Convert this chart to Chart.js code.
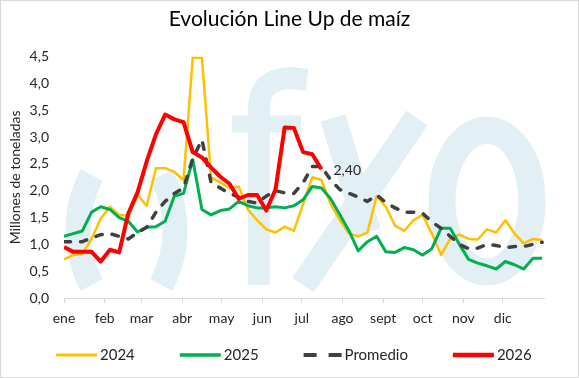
<!DOCTYPE html>
<html>
<head>
<meta charset="utf-8">
<script src="https://cdn.jsdelivr.net/npm/chart.js@4.4.1/dist/chart.umd.min.js"></script>
<style>
  html, body { margin: 0; padding: 0; background: #fff; }
  #marco { width: 579px; height: 378px; box-sizing: border-box; border: 1px solid #d9d9d9; }
  canvas { display: block; }
</style>
</head>
<body>
<div id="marco"><canvas id="lineUp" width="577" height="376"></canvas></div>
<script>
  const FUENTE = "Lato, 'Open Sans', sans-serif";
  const TITULO = 'Evolución Line Up de maíz';

  // Etiquetas del eje X (inicio de cada mes, dia del año)
  const meses = ['ene', 'feb', 'mar', 'abr', 'may', 'jun', 'jul', 'ago', 'sept', 'oct', 'nov', 'dic'];
  const inicioMes = [1, 32, 60, 91, 121, 152, 182, 213, 244, 274, 305, 335];

  // Series semanales, millones de toneladas
  const serie2024 = [0.72, 0.8, 0.82, 1.1, 1.48, 1.7, 1.55, 1.53, 1.92, 1.72,
    2.42, 2.42, 2.35, 2.2, 4.48, 4.48, 2.25, 2.15, 2.05, 2.08,
    1.65, 1.45, 1.28, 1.22, 1.33, 1.25, 1.75, 2.25, 2.2, 1.75,
    1.45, 1.2, 1.15, 1.22, 1.9, 1.7, 1.35, 1.25, 1.45, 1.55,
    1.2, 0.8, 1.1, 1.18, 1.1, 1.09, 1.28, 1.22, 1.45, 1.2,
    1.02, 1.1, 1.08];
  const serie2025 = [1.15, 1.2, 1.25, 1.6, 1.7, 1.65, 1.5, 1.43, 1.23, 1.32,
    1.33, 1.43, 1.9, 1.95, 2.58, 1.65, 1.55, 1.63, 1.66, 1.8,
    1.72, 1.68, 1.68, 1.7, 1.68, 1.72, 1.83, 2.08, 2.05, 1.85,
    1.55, 1.25, 0.88, 1.05, 1.15, 0.86, 0.85, 0.94, 0.9, 0.8,
    0.92, 1.3, 1.3, 1.0, 0.72, 0.65, 0.6, 0.54, 0.68, 0.62,
    0.54, 0.74, 0.74];
  const promedio = [1.05, 1.05, 1.05, 1.12, 1.18, 1.2, 1.15, 1.1, 1.22, 1.32,
    1.6, 1.8, 1.95, 2.05, 2.6, 2.95, 2.15, 2.05, 1.95, 1.88,
    1.8, 1.77, 1.9, 2.0, 1.96, 1.95, 2.15, 2.45, 2.45, 2.2,
    2.02, 1.95, 1.88, 1.8, 1.92, 1.78, 1.68, 1.6, 1.6, 1.58,
    1.42, 1.3, 1.15, 1.0, 0.92, 0.93, 1.0, 0.98, 0.94, 0.96,
    0.96, 1.0, 1.04];
  const serie2026 = [0.95, 0.86, 0.86, 0.86, 0.68, 0.9, 0.85, 1.58, 1.97, 2.55,
    3.05, 3.42, 3.33, 3.28, 2.72, 2.62, 2.43, 2.26, 2.13, 1.85,
    1.92, 1.92, 1.63, 2.02, 3.18, 3.17, 2.72, 2.68, 2.40];

  const aPuntos = (serie) => serie.map((v, i) => ({ x: i, y: v }));
  const coma = (v, dec) => v.toFixed(dec).replace('.', ',');

  // Logo de fondo
  const marcaAgua = {
    id: 'marcaAgua',
    beforeDatasetsDraw(chart) {
      const ctx = chart.ctx;
      const g = Math.PI / 180;
      ctx.save();
      ctx.strokeStyle = '#e2eff5';
      ctx.lineCap = 'butt';
      ctx.lineWidth = 25;
      ctx.beginPath(); ctx.arc(194, 229, 117, 152 * g, 208 * g); ctx.stroke();
      ctx.beginPath(); ctx.arc(57, 229, 117, -28 * g, 28 * g); ctx.stroke();
      // f
      ctx.lineWidth = 22;
      ctx.beginPath();
      ctx.moveTo(258, 284); ctx.lineTo(258, 108);
      ctx.quadraticCurveTo(258, 77, 291, 77); ctx.lineTo(306, 79);
      ctx.stroke();
      ctx.lineWidth = 17;
      ctx.beginPath(); ctx.moveTo(231, 123); ctx.lineTo(300, 123); ctx.stroke();
      // y
      ctx.lineWidth = 26;
      ctx.beginPath(); ctx.moveTo(332, 117); ctx.lineTo(367, 231); ctx.stroke();
      ctx.beginPath(); ctx.moveTo(416, 117); ctx.lineTo(302, 284); ctx.stroke();
      // o
      ctx.lineWidth = 27;
      ctx.beginPath(); ctx.ellipse(486, 200, 45, 71, 0, 0, 2 * Math.PI); ctx.stroke();
      ctx.restore();
    }
  };

  // Titulo centrado en todo el lienzo
  const titulo = {
    id: 'titulo',
    afterDraw(chart) {
      const ctx = chart.ctx;
      ctx.save();
      ctx.font = '21px ' + FUENTE;
      ctx.fillStyle = '#000';
      ctx.textAlign = 'center';
      ctx.textBaseline = 'middle';
      ctx.fillText(TITULO, chart.width / 2, 18);
      ctx.restore();
    }
  };

  // Valor final de 2026
  const etiquetaFinal = {
    id: 'etiquetaFinal',
    afterDatasetsDraw(chart) {
      const meta = chart.getDatasetMeta(3);
      const ultimo = meta.data[meta.data.length - 1];
      const ctx = chart.ctx;
      ctx.save();
      ctx.font = '14px ' + FUENTE;
      ctx.fillStyle = '#262626';
      ctx.textBaseline = 'middle';
      ctx.fillText(coma(serie2026[serie2026.length - 1], 2), ultimo.x + 12, ultimo.y + 1);
      ctx.restore();
    }
  };

  // Leyenda inferior
  const leyenda = {
    id: 'leyenda',
    afterDraw(chart) {
      const ctx = chart.ctx;
      const y = 354;
      let x = 55;
      ctx.save();
      ctx.font = '15px ' + FUENTE;
      ctx.textBaseline = 'middle';
      chart.data.datasets.forEach((ds) => {
        const largo = ds.borderDash ? 38 : 41;
        ctx.strokeStyle = ds.borderColor;
        ctx.lineWidth = ds.borderWidth + 0.5;
        ctx.setLineDash(ds.borderDash ? [13, 12] : []);
        ctx.lineCap = 'butt';
        ctx.beginPath(); ctx.moveTo(x, y); ctx.lineTo(x + largo, y); ctx.stroke();
        ctx.fillStyle = '#262626';
        ctx.fillText(ds.label, x + largo + 3, y);
        x += largo + 3 + ctx.measureText(ds.label).width + 45;
      });
      ctx.restore();
    }
  };

  Chart.defaults.font.family = FUENTE;

  new Chart(document.getElementById('lineUp'), {
    type: 'line',
    data: {
      datasets: [
        { label: '2024', data: aPuntos(serie2024), borderColor: '#FFC000', borderWidth: 2.5, order: 3 },
        { label: '2025', data: aPuntos(serie2025), borderColor: '#00B050', borderWidth: 3, order: 2 },
        { label: 'Promedio', data: aPuntos(promedio), borderColor: '#404040', borderWidth: 3.5,
          borderDash: [6.5, 10], borderCapStyle: 'round', order: 1 },
        { label: '2026', data: aPuntos(serie2026), borderColor: '#FF0000', borderWidth: 4, order: 0 }
      ]
    },
    options: {
      responsive: false,
      animation: false,
      devicePixelRatio: 1,
      elements: {
        point: { radius: 0 },
        line: { tension: 0, borderJoinStyle: 'round' }
      },
      layout: { padding: { top: 55.6, right: 34, bottom: 49, left: 0 } },
      plugins: {
        legend: { display: false },
        tooltip: { enabled: false },
        title: { display: false }
      },
      scales: {
        x: {
          type: 'linear',
          min: 0,
          max: 52.2,
          afterBuildTicks: (s) => { s.ticks = inicioMes.map((d) => ({ value: (d - 1) / 7 })); },
          afterFit: (s) => { s.height = 30; },
          ticks: {
            autoSkip: false,
            maxRotation: 0,
            padding: 7,
            color: '#262626',
            font: { size: 14 },
            callback: (v, i) => meses[i]
          },
          grid: { display: true, drawOnChartArea: false, drawTicks: true, tickLength: 5, color: '#d9d9d9' },
          border: { display: true, color: '#d9d9d9' }
        },
        y: {
          min: 0,
          max: 4.5,
          afterFit: (s) => { s.width = 63; },
          ticks: { stepSize: 0.5, padding: 15, color: '#262626', font: { size: 14 }, callback: (v) => coma(v, 1) },
          grid: { display: false, drawTicks: false },
          border: { display: false },
          title: {
            display: true,
            text: 'Millones de toneladas',
            color: '#262626',
            font: { size: 14 },
            padding: { top: 6, bottom: 0 }
          }
        }
      }
    },
    plugins: [marcaAgua, etiquetaFinal, leyenda, titulo]
  });
</script>
</body>
</html>
